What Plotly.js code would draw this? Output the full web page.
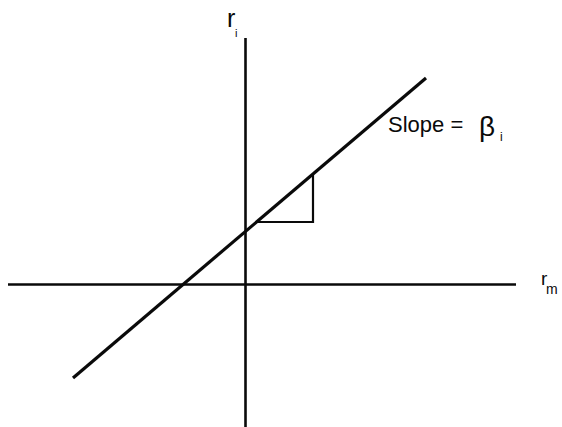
<!DOCTYPE html>
<html>
<head>
<meta charset="utf-8">
<script src="https://cdn.plot.ly/plotly-3.0.1.min.js"></script>
<style>html,body{margin:0;padding:0;background:#fff;}#chart{width:562px;height:427px;}</style>
</head>
<body>
<div id="chart"></div>
<script>
// Conceptual diagram: security characteristic line r_i = alpha + beta * r_m
// Horizontal axis (r_m)
var axisMX = [-237.5, 270.5];
var axisMY = [0, 0];
// Vertical axis (r_i)
var axisIX = [0, 0];
var axisIY = [246.5, -142.5];
// Characteristic line endpoints
var lineX = [-172.5, 180.5];
var lineY = [-93.5, 206.5];
// Slope triangle (run then rise)
var triX = [11.1, 67.5, 67.5];
var triY = [62.5, 62.5, 110.5];
// Label texts
var labelR = "r";
var labelSubI = "i";
var labelSubM = "m";
var labelSlope = "Slope =";
var labelBeta = "β";

var black = '#0a0a0a';
var traces = [
  {x: axisMX, y: axisMY, mode: 'lines', line: {color: black, width: 2.6}, hoverinfo: 'skip'},
  {x: axisIX, y: axisIY, mode: 'lines', line: {color: black, width: 2.6}, hoverinfo: 'skip'},
  {x: lineX, y: lineY, mode: 'lines', line: {color: black, width: 3.2}, hoverinfo: 'skip'},
  {x: triX, y: triY, mode: 'lines', line: {color: black, width: 2.2}, hoverinfo: 'skip'}
];

function f(sz) { return {family: 'Liberation Sans, Arial, sans-serif', color: black, size: sz}; }
function ann(x, y, text, sz) {
  return {x: x, y: y, text: text, showarrow: false, xanchor: 'left', yanchor: 'middle', font: f(sz)};
}
var layout = {
  width: 562, height: 427,
  margin: {l: 0, r: 0, t: 0, b: 0},
  paper_bgcolor: '#fff', plot_bgcolor: '#fff',
  showlegend: false,
  xaxis: {range: [-245.5, 316.5], visible: false, fixedrange: true},
  yaxis: {range: [-142.5, 284.5], visible: false, fixedrange: true},
  annotations: [
    ann(-20.5, 266.5, labelR, 25),
    ann(-12.5, 252, labelSubI, 11),
    ann(293.5, 6, labelR, 19),
    ann(298.5, -4, labelSubM, 14),
    ann(140.5, 160, labelSlope, 22),
    ann(231.5, 158.5, labelBeta, 28),
    ann(252.5, 147.5, labelSubI, 12)
  ]
};
Plotly.newPlot('chart', traces, layout, {staticPlot: true, displayModeBar: false});
</script>
</body>
</html>
